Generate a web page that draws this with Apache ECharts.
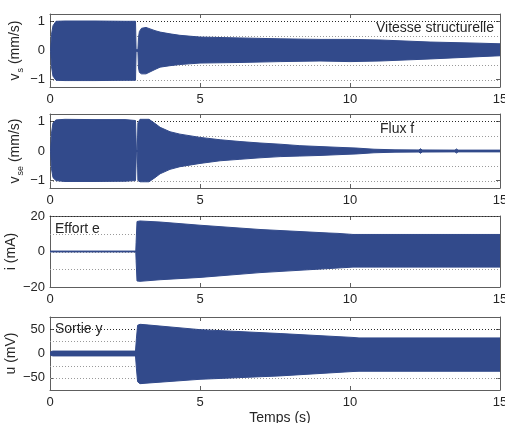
<!DOCTYPE html>
<html><head><meta charset="utf-8">
<script src="https://cdn.jsdelivr.net/npm/echarts@6/dist/echarts.min.js"></script>
<style>html,body{margin:0;padding:0;background:#fff}#c{width:505px;height:423px}</style>
</head><body><div id="c"></div>
<script>
// ---- shared x axis ----
const xTicks = [0, 5, 10, 15];

// ---- panel 1 : v_s (mm/s), envelope of the oscillation ----
const vsTime  = [0.02, 0.05, 0.1, 0.2, 0.5, 1.5, 2.5, 2.85, 2.87, 2.93, 2.95, 2.98, 3.05, 3.2, 3.5, 3.67, 4.0, 4.33, 5.0, 6.33, 7.67, 9.0, 10.0, 11.0, 12.67, 14.33, 15.0];
const vsUpper = [0.0, 0.55, 0.85, 1.0, 1.01, 1.01, 1.0, 1.0, 0.03, 0.03, 0.45, 0.65, 0.76, 0.79, 0.68, 0.63, 0.57, 0.52, 0.46, 0.43, 0.40, 0.38, 0.38, 0.36, 0.29, 0.25, 0.23];
const vsLower = [0.0, -0.55, -0.88, -1.02, -1.03, -1.03, -1.02, -1.02, -0.03, -0.03, -0.6, -0.75, -0.8, -0.8, -0.65, -0.57, -0.52, -0.48, -0.43, -0.41, -0.38, -0.36, -0.38, -0.36, -0.29, -0.21, -0.18];
const vsTicks = [-1, 0, 1];
const vsGridDark = [1];
const vsGridLight = [0.5, 0, -0.5, -1];

// ---- panel 2 : v_se (mm/s) ----
const vseTime  = [0.02, 0.05, 0.1, 0.2, 0.5, 1.5, 2.5, 2.85, 2.88, 2.91, 2.93, 3.0, 3.3, 3.5, 3.67, 4.0, 4.33, 5.0, 5.67, 6.33, 7.0, 7.67, 8.33, 9.0, 9.7, 10.2, 10.8, 11.5, 12.3, 12.35, 12.4, 13.5, 13.55, 13.6, 15.0];
const vseUpper = [0.0, 0.6, 0.95, 1.05, 1.07, 1.06, 1.06, 1.03, 0.05, 0.05, 0.95, 1.07, 1.07, 0.93, 0.80, 0.65, 0.57, 0.46, 0.38, 0.32, 0.27, 0.23, 0.18, 0.15, 0.12, 0.10, 0.06, 0.04, 0.035, 0.08, 0.035, 0.03, 0.07, 0.03, 0.03];
const vseLower = [0.0, -0.6, -0.9, -1.0, -1.03, -1.03, -1.02, -1.0, -0.05, -0.05, -1.0, -1.04, -1.04, -0.90, -0.77, -0.62, -0.53, -0.42, -0.33, -0.28, -0.23, -0.19, -0.17, -0.15, -0.12, -0.10, -0.06, -0.04, -0.035, -0.08, -0.035, -0.03, -0.07, -0.03, -0.03];
const vseTicks = [-1, 0, 1];
const vseGridDark = [1];
const vseGridLight = [0.5, 0, -0.5, -1];

// ---- panel 3 : i (mA) ----
const iTime  = [0.0, 2.86, 2.87, 2.9, 3.0, 3.67, 5.0, 7.0, 9.3, 9.6, 10.1, 15.0];
const iUpper = [0.25, 0.25, 5, 16.9, 17.2, 16.6, 14.8, 12.4, 10.4, 10.2, 9.6, 9.6];
const iLower = [-0.25, -0.25, -5, -16.6, -16.8, -15.9, -14.6, -11.9, -9.6, -9.3, -8.8, -8.8];
const iTicks = [-20, 0, 20];
const iGridDark = [20];
const iGridLight = [10, 0, -10];

// ---- panel 4 : u (mV) ----
const uTime  = [0.0, 0.03, 0.1, 2.85, 2.88, 2.92, 3.0, 3.2, 5.0, 7.67, 10.1, 10.3, 15.0];
const uUpper = [0, 4, 5, 5, 30, 58, 60, 59, 49, 41, 33, 32, 32];
const uLower = [0, -4, -5, -5, -30, -58, -62, -61, -53, -46, -37, -36.5, -36.5];
const uTicks = [-50, 0, 50];
const uGridDark = [50];
const uGridLight = [25, 0, -25, -50];

const BLUE = '#324a8b';
const FONT = 'Liberation Sans, Arial, Helvetica, sans-serif';
const TXT = '#262626';
const AX = '#5e5e5e';

const panels = [
  {t: vsTime, up: vsUpper, lo: vsLower, min: -1.25, max: 1.25, ticks: vsTicks, dark: vsGridDark, light: vsGridLight,
   name: '{m|v}{s|s}{m| (mm/s)}', gap: 27},
  {t: vseTime, up: vseUpper, lo: vseLower, min: -1.25, max: 1.25, ticks: vseTicks, dark: vseGridDark, light: vseGridLight,
   name: '{m|v}{s|se}{m| (mm/s)}', gap: 27},
  {t: iTime, up: iUpper, lo: iLower, min: -20, max: 20, ticks: iTicks, dark: iGridDark, light: iGridLight,
   name: '{m|i (mA)}', gap: 31},
  {t: uTime, up: uUpper, lo: uLower, min: -75, max: 75, ticks: uTicks, dark: uGridDark, light: uGridLight,
   name: '{m|u (mV)}', gap: 31}
];

const layout = [
  {top: 14, height: 73},
  {top: 114, height: 74},
  {top: 216, height: 71},
  {top: 317, height: 73}
];

const fmt = v => String(v).replace('-', '\u2212');

const grid = [], xAxis = [], yAxis = [], series = [];
panels.forEach((p, i) => {
  grid.push({left: 50, right: 5, top: layout[i].top, height: layout[i].height, containLabel: false, outerBoundsMode: 'none'});
  const xBase = {
    gridIndex: i, type: 'value', min: xTicks[0], max: xTicks[xTicks.length - 1], interval: xTicks[1] - xTicks[0],
    axisLine: {show: true, onZero: false, lineStyle: {color: AX, width: 1}},
    axisTick: {show: true, inside: true, length: 4, lineStyle: {color: AX}},
    splitLine: {show: false}
  };
  xAxis.push(Object.assign({}, xBase, {
    position: 'bottom',
    axisLabel: {show: true, fontSize: 13, color: TXT, fontFamily: FONT, margin: 6, hideOverlap: false},
    name: i === 3 ? 'Temps (s)' : '', nameLocation: 'middle', nameGap: 21, nameMoveOverlap: false,
    nameTextStyle: {fontSize: 14, color: TXT, fontFamily: FONT, padding: [0, 0, 0, 10]}
  }));
  xAxis.push(Object.assign({}, xBase, {position: 'top', axisLabel: {show: false}}));
  const yBase = {
    gridIndex: i, type: 'value', min: p.min, max: p.max,
    axisLine: {show: true, onZero: false, lineStyle: {color: AX, width: 1}},
    axisTick: {show: true, inside: true, length: 4, customValues: p.ticks, lineStyle: {color: AX}},
    splitLine: {show: false}
  };
  yAxis.push(Object.assign({}, yBase, {
    position: 'left',
    axisLabel: {show: true, customValues: p.ticks, formatter: fmt, fontSize: 13, color: TXT, fontFamily: FONT, margin: 5},
    name: p.name, nameLocation: 'middle', nameRotate: 90, nameGap: p.gap, nameMoveOverlap: false,
    nameTextStyle: {
      rich: {
        m: {fontSize: 14, color: TXT, fontFamily: FONT, lineHeight: 16},
        s: {fontSize: 9, color: TXT, fontFamily: FONT, lineHeight: 10, padding: [11, 0, 0, 1]}
      }
    }
  }));
  yAxis.push(Object.assign({}, yBase, {position: 'right', axisLabel: {show: false}}));

  series.push({
    type: 'custom', coordinateSystem: 'cartesian2d', xAxisIndex: i * 2, yAxisIndex: i * 2,
    data: [[p.t[0], 0]], silent: true, clip: true, animation: false,
    renderItem: (params, api) => {
      const children = [];
      const xa = api.coord([xTicks[0], 0])[0];
      const xb = api.coord([xTicks[xTicks.length - 1], 0])[0];
      const hline = (v, color) => {
        const y = Math.round(api.coord([0, v])[1]) + 0.5;
        children.push({type: 'line', shape: {x1: xa, y1: y, x2: xb, y2: y},
          style: {stroke: color, lineWidth: 1, lineDash: [1, 2]}});
      };
      p.light.forEach(v => hline(v, '#9a9a9a'));
      p.dark.forEach(v => hline(v, '#2a2a2a'));
      const pts = [];
      for (let k = 0; k < p.t.length; k++) pts.push(api.coord([p.t[k], p.up[k]]));
      for (let k = p.t.length - 1; k >= 0; k--) pts.push(api.coord([p.t[k], p.lo[k]]));
      children.push({type: 'polygon', shape: {points: pts},
        style: {fill: BLUE, stroke: BLUE, lineWidth: 1, lineJoin: 'round'}});
      return {type: 'group', children};
    }
  });
});

const textStyle = t => ({text: t, font: '14px ' + FONT, fill: TXT});
const graphic = [
  {type: 'text', right: 11, top: 21, style: textStyle('Vitesse structurelle'), z: 100},
  {type: 'text', left: 380, top: 122, style: textStyle('Flux f'), z: 100},
  {type: 'text', left: 55, top: 222, style: textStyle('Effort e'), z: 100},
  {type: 'text', left: 55, top: 322, style: textStyle('Sortie y'), z: 100}
];

const chart = echarts.init(document.getElementById('c'), null, {renderer: 'canvas'});
chart.setOption({animation: false, backgroundColor: '#fff', grid, xAxis, yAxis, series, graphic});
</script>
</body></html>
